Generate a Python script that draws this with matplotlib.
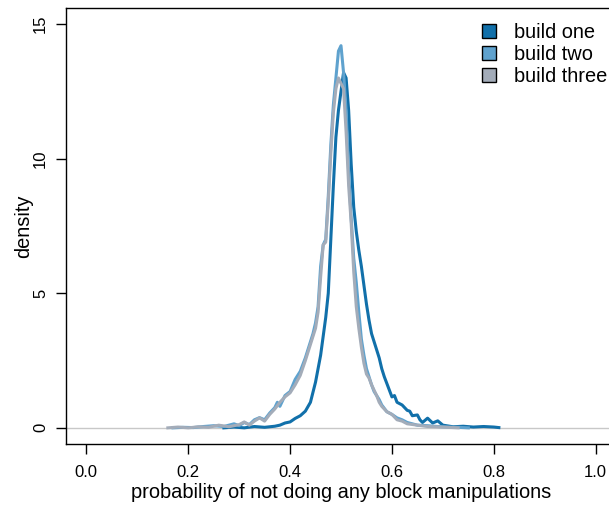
import numpy as np
import matplotlib.pyplot as plt
from matplotlib.patches import Patch

plt.rcParams['font.family'] = ['Liberation Sans', 'DejaVu Sans']

# density estimates
x_one = [0.27, 0.29, 0.31, 0.33, 0.35, 0.37, 0.38, 0.39, 0.40, 0.41, 0.42, 0.43, 0.44, 0.45,
         0.455, 0.46, 0.465, 0.47, 0.475, 0.48, 0.485, 0.49, 0.495, 0.50, 0.505, 0.51, 0.515,
         0.52, 0.525, 0.53, 0.535, 0.54, 0.545, 0.55, 0.555, 0.56, 0.57, 0.575, 0.58, 0.585,
         0.59, 0.595, 0.60, 0.605, 0.61, 0.62, 0.63, 0.635, 0.64, 0.65, 0.655, 0.66, 0.67,
         0.68, 0.69, 0.70, 0.71, 0.72, 0.74, 0.76, 0.78, 0.80, 0.81]
y_one = [0.0, 0.03, 0.0, 0.05, 0.02, 0.06, 0.10, 0.18, 0.22, 0.35, 0.45, 0.62, 0.95, 1.7,
         2.2, 2.7, 3.4, 4.1, 5.0, 7.0, 9.0, 10.8, 11.8, 12.5, 13.2, 13.0, 11.8,
         9.8, 8.2, 7.3, 6.6, 6.0, 5.3, 4.6, 4.0, 3.5, 2.9, 2.6, 2.2, 1.9,
         1.65, 1.4, 1.15, 1.2, 0.95, 0.85, 0.65, 0.62, 0.45, 0.48, 0.30, 0.2, 0.36,
         0.18, 0.26, 0.1, 0.07, 0.04, 0.06, 0.03, 0.05, 0.03, 0.01]

x_two = [0.17, 0.19, 0.21, 0.23, 0.25, 0.27, 0.29, 0.30, 0.31, 0.32, 0.33, 0.34, 0.35, 0.36,
         0.37, 0.375, 0.38, 0.39, 0.40, 0.41, 0.42, 0.43, 0.44, 0.445, 0.45, 0.455, 0.46,
         0.465, 0.47, 0.475, 0.48, 0.485, 0.49, 0.495, 0.50, 0.505, 0.51, 0.515, 0.52, 0.525,
         0.53, 0.535, 0.54, 0.545, 0.55, 0.555, 0.56, 0.565, 0.57, 0.575, 0.58, 0.59, 0.60,
         0.61, 0.62, 0.63, 0.64, 0.65, 0.67, 0.69, 0.71, 0.73, 0.75]
y_two = [0.0, 0.02, 0.01, 0.05, 0.08, 0.05, 0.15, 0.08, 0.2, 0.12, 0.3, 0.38, 0.3, 0.55,
         0.75, 0.95, 0.8, 1.2, 1.35, 1.8, 2.1, 2.6, 3.2, 3.5, 3.9, 4.5, 6.0,
         6.8, 7.0, 8.6, 10.5, 12.0, 13.0, 14.0, 14.2, 13.2, 11.8, 9.5, 7.8, 6.3,
         5.4, 4.3, 3.3, 2.7, 2.2, 1.9, 1.6, 1.35, 1.2, 1.05, 0.85, 0.6, 0.5,
         0.37, 0.3, 0.2, 0.15, 0.1, 0.08, 0.05, 0.03, 0.02, 0.0]

x_three = [0.16, 0.18, 0.20, 0.22, 0.24, 0.26, 0.28, 0.30, 0.31, 0.32, 0.33, 0.34, 0.35, 0.36,
           0.37, 0.38, 0.39, 0.40, 0.41, 0.42, 0.43, 0.44, 0.45, 0.455, 0.46, 0.465, 0.47,
           0.475, 0.48, 0.485, 0.49, 0.495, 0.50, 0.505, 0.51, 0.515, 0.52, 0.525, 0.53, 0.535,
           0.54, 0.545, 0.55, 0.555, 0.56, 0.57, 0.575, 0.58, 0.59, 0.60, 0.61, 0.62, 0.63,
           0.65, 0.67, 0.70, 0.73]
y_three = [0.0, 0.03, 0.0, 0.04, 0.02, 0.1, 0.04, 0.12, 0.22, 0.1, 0.25, 0.37, 0.25, 0.5,
           0.7, 0.95, 1.15, 1.3, 1.6, 1.95, 2.5, 3.1, 3.7, 4.3, 5.6, 6.8, 6.9,
           8.4, 10.2, 11.7, 12.6, 13.0, 12.8, 12.6, 11.0, 9.0, 7.6, 5.8, 4.5, 3.7,
           3.0, 2.4, 2.0, 1.85, 1.6, 1.2, 0.95, 0.8, 0.6, 0.5, 0.3, 0.25, 0.15,
           0.1, 0.05, 0.03, 0.0]

labels = ['build one', 'build two', 'build three']
colors = ['#1170AA', '#5FA2CE', '#A3ACB9']

fig = plt.figure(figsize=(6.09, 5.08), dpi=100)
# plot region runs past the right edge of the picture, as in the original
ax = fig.add_axes([66/609, 64/508, 550/609, 436/508])

ax.axhline(0, color='#c8c8c8', lw=1, zorder=1)
ax.plot(x_one, y_one, color=colors[0], lw=2.2, zorder=2)
ax.plot(x_two, y_two, color=colors[1], lw=2.2, zorder=3)
ax.plot(x_three, y_three, color=colors[2], lw=2.2, zorder=4)

ax.set_xlim(-0.04, 1.04)
ax.set_ylim(-0.6, 15.6)
ax.set_xticks([0.0, 0.2, 0.4, 0.6, 0.8, 1.0])
ax.set_xticklabels(['0.0', '0.2', '0.4', '0.6', '0.8', '1.0'])
ax.set_yticks([0, 5, 10, 15])
ax.set_yticklabels(['0', '5', '10', '15'], rotation=90, va='center')
ax.tick_params(direction='out', length=7, width=1, labelsize=12, pad=6)
ax.tick_params(axis='x', pad=8)
for s in ax.spines.values():
    s.set_linewidth(1)
ax.set_xlabel('probability of not doing any block manipulations', fontsize=14.4, labelpad=2.5)
ax.set_ylabel('density', fontsize=14.4, labelpad=0)

handles = [Patch(facecolor=c, edgecolor='black', lw=1) for c in colors]
fig.legend(handles, labels, loc='upper left', bbox_to_anchor=(482/609, 1 - 23/508),
           frameon=False, fontsize=14.4, handlelength=0.7, handleheight=0.7,
           handletextpad=0.9, labelspacing=0.15, borderaxespad=0, borderpad=0)

fig.savefig('out.png', dpi=100)
